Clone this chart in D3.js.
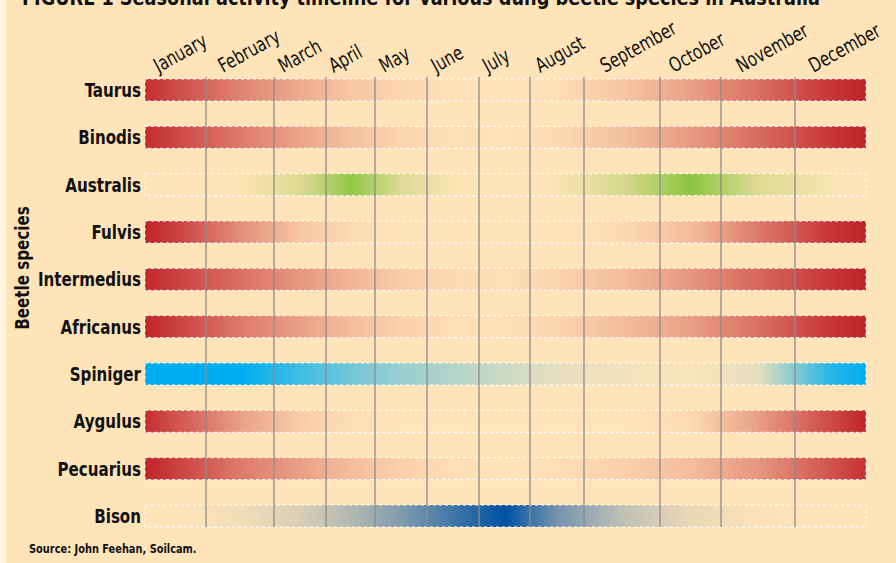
<!DOCTYPE html>
<html><head><meta charset="utf-8">
<script src="https://cdn.jsdelivr.net/npm/d3@7"></script>
<style>
html,body{margin:0;padding:0;background:#FFF3DE;}
svg{display:block;}
text{font-family:"DejaVu Sans Condensed","Liberation Sans",sans-serif;fill:#111;}
</style></head>
<body><svg id="chart" width="896" height="563"></svg>
<script>
const title = "FIGURE 1  Seasonal activity timeline for various dung beetle species in Australia";
const source = "Source: John Feehan, Soilcam.";
const yTitle = "Beetle species";
const months = ["January","February","March","April","May","June","July","August","September","October","November","December"];
const species = ["Taurus","Binodis","Australis","Fulvis","Intermedius","Africanus","Spiniger","Aygulus","Pecuarius","Bison"];
// relative activity (0-1) at each month
const taurus      = [0.80,0.50,0.30,0.15,0.07,0.02,0.00,0.03,0.15,0.35,0.60,0.90];
const binodis     = [0.82,0.55,0.33,0.18,0.08,0.03,0.01,0.05,0.18,0.38,0.62,0.90];
const australis   = [0.00,0.03,0.30,0.95,0.30,0.05,0.00,0.05,0.35,1.00,0.30,0.05];
const fulvis      = [0.85,0.45,0.15,0.05,0.00,0.00,0.00,0.00,0.05,0.20,0.55,0.90];
const intermedius = [0.85,0.60,0.40,0.25,0.12,0.05,0.03,0.08,0.20,0.40,0.65,0.90];
const africanus   = [0.85,0.55,0.35,0.20,0.10,0.03,0.02,0.08,0.20,0.35,0.60,0.90];
const spiniger    = [1.00,1.00,0.75,0.55,0.40,0.30,0.20,0.10,0.05,0.02,0.10,0.85];
const aygulus     = [0.75,0.35,0.12,0.03,0.00,0.00,0.00,0.00,0.00,0.05,0.35,0.80];
const pecuarius   = [0.85,0.55,0.35,0.20,0.10,0.03,0.00,0.03,0.10,0.20,0.40,0.75];
const bison       = [0.00,0.05,0.15,0.30,0.50,0.75,1.00,0.55,0.25,0.08,0.02,0.00];
const activity = [taurus,binodis,australis,fulvis,intermedius,africanus,spiniger,aygulus,pecuarius,bison];

const RED="#C1232B", GREEN="#8CC63F", CYAN="#00AEEF", NAVY="#0052A3";
const seriesColor = [RED,RED,GREEN,RED,RED,RED,CYAN,RED,RED,NAVY];
const BG = "#FFE4B9";
const SX = 0.84; // horizontal condensing of the type

const svg = d3.select("#chart");
const defs = svg.append("defs");
svg.append("rect").attr("x",6).attr("y",0).attr("width",890).attr("height",563).attr("fill",BG);

const x = d3.scaleLinear().domain(d3.range(13))
  .range([145,206,274,326,375,427,479,530,584,660,721,795,866]);
const y = d3.scalePoint().domain(species).range([90,516]);
const barH = 22;
const x0 = x(0), x1 = x(12), W = x1 - x0;

// gradients
species.forEach((s,i)=>{
  const vals = activity[i];
  const interp = d3.interpolateRgb(BG, seriesColor[i]);
  const g = defs.append("linearGradient").attr("id","g"+i)
    .attr("x1","0").attr("x2","1").attr("y1","0").attr("y2","0");
  const first = Math.max(0,Math.min(1, vals[0] + (vals[0]-vals[1])/2));
  const last = Math.max(0,Math.min(1, vals[11] + (vals[11]-vals[10])/2));
  const stops = [[0,first]].concat(vals.map((v,m)=>[(x(m+0.5)-x0)/W, v])).concat([[1,last]]);
  g.selectAll("stop").data(stops).join("stop")
    .attr("offset",d=>d[0]).attr("stop-color",d=>interp(d[1]));
});

svg.append("g").selectAll("rect").data(species).join("rect")
  .attr("x",x0).attr("y",d=>y(d)-barH/2).attr("width",W).attr("height",barH)
  .attr("fill",(d,i)=>`url(#g${i})`)
  .attr("stroke","#ffffff").attr("stroke-width",1).attr("stroke-dasharray","3,3");

// month grid lines
svg.append("g").selectAll("line").data(d3.range(1,12)).join("line")
  .attr("x1",d=>x(d)).attr("x2",d=>x(d)).attr("y1",77).attr("y2",527)
  .attr("stroke","#8C8C8C").attr("stroke-width",1.3);

// row labels
svg.append("g").selectAll("text").data(species).join("text")
  .attr("transform",d=>`translate(141,${y(d)}) scale(${SX},1)`).attr("dy","0.35em")
  .attr("text-anchor","end").attr("font-weight","bold").attr("font-size",20)
  .text(d=>d);

// month labels
svg.append("g").selectAll("text").data(months).join("text")
  .attr("transform",(d,i)=>`translate(${x(i+0.5)-17},${73}) rotate(-29) scale(${SX},1)`)
  .attr("font-size",20).attr("font-weight",500).text(d=>d);

// y title
svg.append("text").attr("transform",`translate(29,268) rotate(-90) scale(${SX},1)`)
  .attr("text-anchor","middle").attr("font-weight","bold").attr("font-size",20).text(yTitle);

// title (cut at top as in the original)
svg.append("text").attr("x",22).attr("y",5).attr("font-weight","bold").attr("font-size",22)
  .attr("textLength",798).attr("lengthAdjust","spacingAndGlyphs").text(title);

svg.append("text").attr("transform",`translate(29,553) scale(${SX},1)`)
  .attr("font-weight","bold").attr("font-size",13).text(source);
</script></body></html>
